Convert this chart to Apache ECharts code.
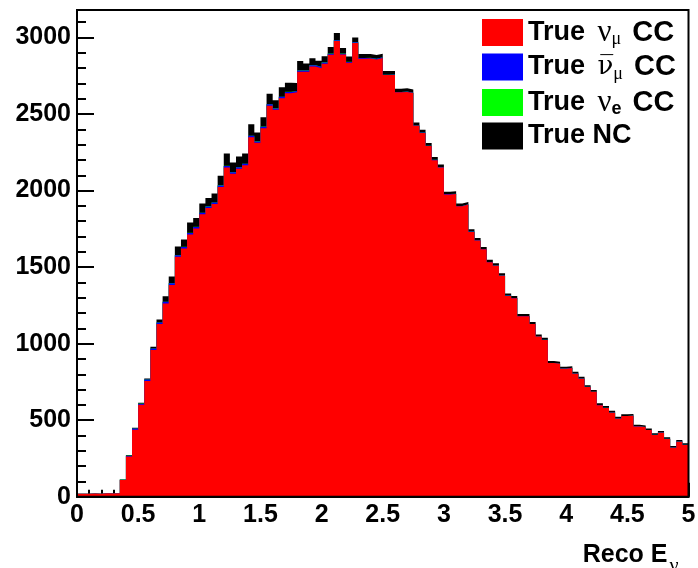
<!DOCTYPE html>
<html><head><meta charset="utf-8">
<script src="https://cdn.jsdelivr.net/npm/echarts@6/dist/echarts.min.js"></script>
<style>html,body{margin:0;padding:0;background:#fff}#c{width:698px;height:568px}</style>
</head><body><div id="c"></div>
<script>
// ---- data (100 bins of 0.05 in Reco E, from 0 to 5) ----
const binWidth = 0.05;
const xMin = 0, xMax = 5, xTickStep = 0.5;
const yMin = 0, yMax = 3180, yTickStep = 500, yMinorStep = 100;

const numuCC = [20,20,21,20,22,21,22,109,263,438,
  600,756,958,1128,1262,1384,1567,1622,1713,1752,
  1845,1886,1912,2024,2151,2110,2143,2166,2349,2312,
  2408,2555,2528,2604,2636,2642,2777,2777,2811,2799,
  2829,2888,2977,2889,2836,2965,2861,2863,2857,2867,
  2755,2756,2642,2645,2637,2423,2377,2291,2199,2151,
  1975,1978,1898,1909,1730,1674,1616,1532,1509,1444,
  1312,1297,1179,1179,1128,1046,1024,873,868,836,
  841,804,771,717,685,598,580,549,510,527,
  529,459,455,435,403,418,377,320,359,338];
const numubarCC = [0,0,0,0,0,0,0,2,5,7,
  8,9,10,10,11,11,11,10,10,10,
  10,10,10,10,10,10,10,9,9,9,
  9,9,9,9,9,8,8,8,8,8,
  8,6,6,5,5,5,5,4,4,4,
  2,2,2,2,2,2,2,2,2,2,
  2,2,2,2,2,2,2,2,2,2,
  2,1,1,1,1,1,1,1,1,1,
  1,1,1,1,1,1,1,1,1,1,
  1,1,1,1,1,1,1,1,1,1];
const nueCC = [0,0,0,0,0,0,0,1,1,1,
  1,1,1,1,1,1,1,1,1,1,
  1,1,1,1,1,1,1,1,1,1,
  1,1,1,1,1,1,1,1,1,1,
  1,1,1,1,1,1,1,1,1,1,
  0,0,0,0,0,0,0,0,0,0,
  0,0,0,0,0,0,0,0,0,0,
  0,0,0,0,0,0,0,0,0,0,
  0,0,0,0,0,0,0,0,0,0,
  0,0,0,0,0,0,0,0,0,0];
const trueNC = [0,0,0,0,0,0,0,1,3,4,
  5,7,10,18,35,42,55,48,68,58,
  60,55,58,62,80,62,68,66,75,58,
  62,68,52,62,58,52,60,45,44,40,
  40,44,46,36,34,30,26,24,24,22,
  24,23,22,21,21,20,19,18,18,17,
  16,15,15,15,15,14,14,14,14,14,
  13,13,13,13,13,13,13,12,12,12,
  11,11,11,11,11,11,11,11,11,10,
  10,10,10,10,10,10,10,10,10,10];

// stack order bottom -> top
const seriesDefs = [
  {name: 'numu',    values: numuCC,    color: '#ff0000', label: 'True {nu|ν}{sub|μ}{cc|CC}'},
  {name: 'numubar', values: numubarCC, color: '#0000ff', label: 'True {nub|ν\u0305}{sub|μ}{cc|CC}'},
  {name: 'nue',     values: nueCC,     color: '#00ff00', label: 'True {nu|ν}{sube|e}{cc|CC}'},
  {name: 'nc',      values: trueNC,    color: '#000000', label: '{nc|True NC}'}
];

// cumulative stack tops (THStack style), each drawn from zero, top layers first
const cumTops = [];
seriesDefs.forEach((s, k) => {
  cumTops.push(s.values.map((v, i) => v + (k > 0 ? cumTops[k - 1][i] : 0)));
});

// histogram step points: bin low edges, plus closing point at upper edge of last bin
function histPoints(vals) {
  const pts = vals.map((v, i) => [+(xMin + i * binWidth).toFixed(4), v]);
  pts.push([xMax, vals[vals.length - 1]]);
  return pts;
}

const FONT = "'Liberation Sans', Arial, Helvetica, sans-serif";
const SERIF = "'Liberation Serif', 'DejaVu Serif', serif";
const chart = echarts.init(document.getElementById('c'), null, {renderer: 'canvas'});

const labelMap = {};
seriesDefs.forEach(s => labelMap[s.name] = s.label);

const drawOrder = seriesDefs.map((s, k) => k).reverse();

chart.setOption({
  animation: false,
  backgroundColor: '#ffffff',
  grid: {left: 77, right: 9.5, top: 10, bottom: 71.3, outerBoundsMode: 'none', containLabel: false,
         show: true, borderColor: '#000', borderWidth: 2, backgroundColor: 'transparent', z: 10},
  legend: {
    orient: 'vertical', left: 477, top: 12, itemWidth: 41, itemHeight: 27, itemGap: 4,
    icon: 'rect',
    data: seriesDefs.map(s => ({name: s.name, itemStyle: {color: s.color}})),
    formatter: n => labelMap[n],
    selectedMode: false,
    textStyle: {
      fontFamily: FONT, fontWeight: 'bold', fontSize: 27, color: '#000', padding: [0, 0, 0, 0],
      rich: {
        nu: {fontFamily: SERIF, fontWeight: 'normal', fontSize: 31, color: '#000', padding: [0, 0, 0, 5]},
        nub: {fontFamily: "'DejaVu Serif', serif", fontWeight: 'normal', fontSize: 26, color: '#000', padding: [0, 0, 0, 5]},
        sub: {fontFamily: SERIF, fontWeight: 'normal', fontSize: 18, color: '#000', verticalAlign: 'bottom', padding: [14, 0, 0, 0]},
        sube: {fontFamily: FONT, fontWeight: 'bold', fontSize: 18, color: '#000', verticalAlign: 'bottom', padding: [14, 0, 0, 0]},
        cc: {fontFamily: FONT, fontWeight: 'bold', fontSize: 29, color: '#000', padding: [0, 0, 0, 11]},
        nc: {fontFamily: FONT, fontWeight: 'bold', fontSize: 27, color: '#000', padding: [3, 0, 3, 0]}
      }
    }
  },
  xAxis: {
    type: 'value', min: xMin, max: xMax, interval: xTickStep,
    axisLine: {show: true, onZero: false, lineStyle: {color: '#000', width: 2}},
    axisTick: {show: true, inside: true, length: 14, lineStyle: {color: '#000', width: 2}},
    minorTick: {show: true, splitNumber: 5, length: 7, lineStyle: {color: '#000', width: 2}},
    splitLine: {show: false},
    axisLabel: {fontFamily: FONT, fontWeight: 'bold', fontSize: 25, color: '#000', margin: 6, formatter: v => String(v)},
    name: '{b|Reco E}{s|ν}',
    nameLocation: 'end', nameGap: -10,
    nameTextStyle: {
      align: 'right', verticalAlign: 'top', padding: [36, 0, 0, 0],
      rich: {
        b: {fontFamily: FONT, fontWeight: 'bold', fontSize: 25, color: '#000'},
        s: {fontFamily: SERIF, fontSize: 20, color: '#000', verticalAlign: 'bottom', padding: [24, 0, 0, 2]}
      }
    }
  },
  yAxis: [{
    type: 'value', min: yMin, max: yMax, interval: yTickStep,
    axisLine: {show: true, lineStyle: {color: '#000', width: 2}},
    axisTick: {show: true, inside: true, length: 17, lineStyle: {color: '#000', width: 2}},
    splitLine: {show: false},
    axisLabel: {fontFamily: FONT, fontWeight: 'bold', fontSize: 25, color: '#000', margin: 6, showMaxLabel: false, formatter: v => String(v)}
  }, {
    type: 'value', min: yMin, max: yMax, interval: yMinorStep, position: 'left',
    axisLine: {show: false},
    axisTick: {show: true, inside: true, length: 9, lineStyle: {color: '#000', width: 2}},
    splitLine: {show: false},
    axisLabel: {show: false}
  }],
  series: drawOrder.map(k => {
    const s = seriesDefs[k];
    return {
      name: s.name, type: 'line', step: 'end',
      data: histPoints(cumTops[k]),
      symbol: 'none', showSymbol: false,
      color: s.color,
      lineStyle: {width: 0, color: s.color},
      itemStyle: {color: s.color},
      areaStyle: {color: s.color, opacity: 1, origin: 'start'},
      emphasis: {disabled: true}
    };
  })
});
</script></body></html>
